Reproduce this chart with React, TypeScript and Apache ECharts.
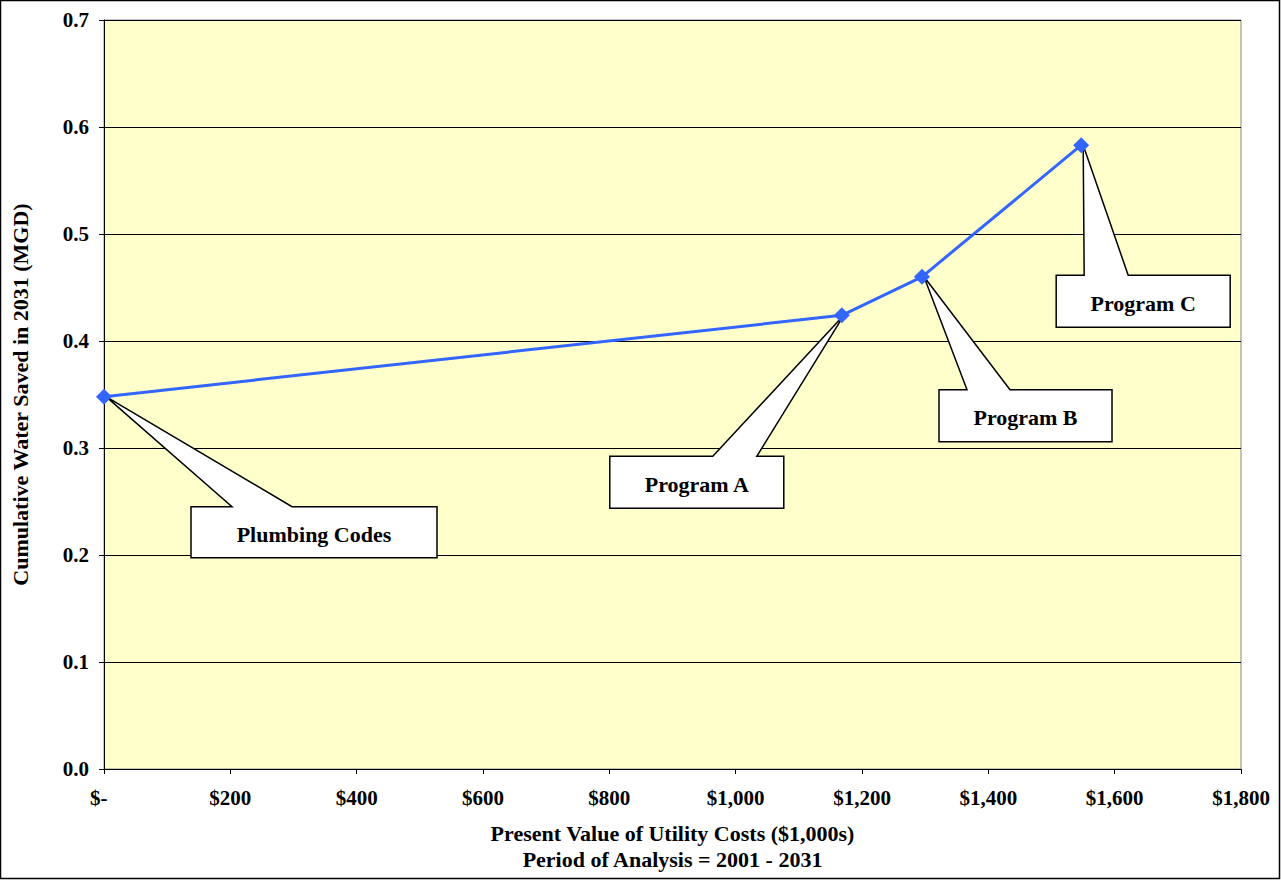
import React, { useEffect, useRef } from "react";
import * as echarts from "echarts";

// Program costs ($1,000s) and cumulative water saved in 2031 (MGD)
const programNames = ["Plumbing Codes", "Program A", "Program B", "Program C"];
const presentValueCosts = [0, 1168, 1295, 1547];
const waterSaved = [0.348, 0.424, 0.46, 0.583];

const xTicks = { min: 0, max: 1800, interval: 200 };
const yTicks = { min: 0, max: 0.7, interval: 0.1 };

// Callout boxes placed relative to the point they annotate (pixels)
const calloutLayout = [
  { dx: 87, dy: 110, w: 246, h: 51, b0: 41, b1: 101 },
  { dx: -232, dy: 141, w: 174, h: 52, b0: 103, b1: 147 },
  { dx: 17, dy: 113, w: 173, h: 52, b0: 28, b1: 71 },
  { dx: -25, dy: 130, w: 174, h: 52, b0: 28, b1: 72 },
];

const FONT = "'Liberation Serif', 'Times New Roman', serif";

function formatDollars(v: number): string {
  if (v === 0) return "$-  ";
  return "$" + v.toLocaleString("en-US");
}

export default function App() {
  const ref = useRef<HTMLDivElement>(null);

  useEffect(() => {
    if (!ref.current) return;
    const chart = echarts.init(ref.current, null, { renderer: "svg" });

    const points = presentValueCosts.map((x, i) => [x, waterSaved[i]]);

    chart.setOption({
      animation: false,
      backgroundColor: "#ffffff",
      textStyle: { fontFamily: FONT },
      grid: {
        left: 104,
        right: 40,
        top: 20,
        bottom: 111,
        show: true,
        backgroundColor: "#FFFFCC",
        borderColor: "#888888",
        borderWidth: 1,
      },
      xAxis: {
        type: "value",
        min: xTicks.min,
        max: xTicks.max,
        interval: xTicks.interval,
        name: "Present Value of Utility Costs ($1,000s)\nPeriod of Analysis = 2001 - 2031",
        nameLocation: "middle",
        nameGap: 51,
        nameTextStyle: {
          fontFamily: FONT,
          fontWeight: "bold",
          fontSize: 22,
          lineHeight: 26,
          color: "#000",
        },
        axisLine: { show: true, lineStyle: { color: "#000", width: 1 } },
        axisTick: { show: true, length: 5, inside: false, lineStyle: { color: "#000" } },
        splitLine: { show: false },
        axisLabel: {
          formatter: formatDollars,
          fontFamily: FONT,
          fontWeight: "bold",
          fontSize: 21,
          color: "#000",
          margin: 18,
        },
      },
      yAxis: {
        type: "value",
        min: yTicks.min,
        max: yTicks.max,
        interval: yTicks.interval,
        name: "Cumulative Water Saved in 2031 (MGD)",
        nameLocation: "middle",
        nameGap: 73,
        nameTextStyle: {
          fontFamily: FONT,
          fontWeight: "bold",
          fontSize: 22,
          color: "#000",
        },
        axisLine: { show: true, lineStyle: { color: "#000", width: 1 } },
        axisTick: { show: true, length: 5, inside: false, lineStyle: { color: "#000" } },
        splitLine: { show: true, lineStyle: { color: "#000", width: 1 } },
        axisLabel: {
          formatter: (v: number) => v.toFixed(1),
          fontFamily: FONT,
          fontWeight: "bold",
          fontSize: 21,
          color: "#000",
          margin: 15,
        },
      },
      series: [
        {
          type: "line",
          data: points,
          lineStyle: { color: "#3366FF", width: 3 },
          itemStyle: { color: "#3366FF" },
          symbol: "diamond",
          symbolSize: 16,
          z: 3,
        },
      ],
    });

    // Callouts: white box with a wedge pointing at each program's point
    const callouts: any[] = points.map((pt, i) => {
      const [px, py] = chart.convertToPixel({ gridIndex: 0 }, pt) as number[];
      const L = calloutLayout[i];
      const bx = px + L.dx;
      const by = py + L.dy;
      return {
        type: "group",
        z: 100,
        children: [
          {
            type: "polygon",
            shape: {
              points: [
                [px + 2, py],
                [bx + L.b1, by],
                [bx + L.w, by],
                [bx + L.w, by + L.h],
                [bx, by + L.h],
                [bx, by],
                [bx + L.b0, by],
              ],
            },
            style: { fill: "#ffffff", stroke: "#000000", lineWidth: 1.5 },
          },
          {
            type: "text",
            x: bx + L.w / 2,
            y: by + L.h / 2 + 2,
            style: {
              text: programNames[i],
              fontFamily: FONT,
              fontWeight: "bold",
              fontSize: 22,
              fill: "#000",
              align: "center",
              verticalAlign: "middle",
            },
          },
        ],
      };
    });

    chart.setOption({
      graphic: [
        {
          type: "rect",
          shape: { x: 0.5, y: 0.5, width: 1279, height: 878 },
          style: { fill: "none", stroke: "#000", lineWidth: 1.5 },
          silent: true,
          z: 0,
        },
        ...callouts,
      ],
    });

    return () => chart.dispose();
  }, []);

  return (
    <div
      ref={ref}
      style={{ position: "fixed", left: 0, top: 0, width: 1281, height: 880 }}
    />
  );
}
